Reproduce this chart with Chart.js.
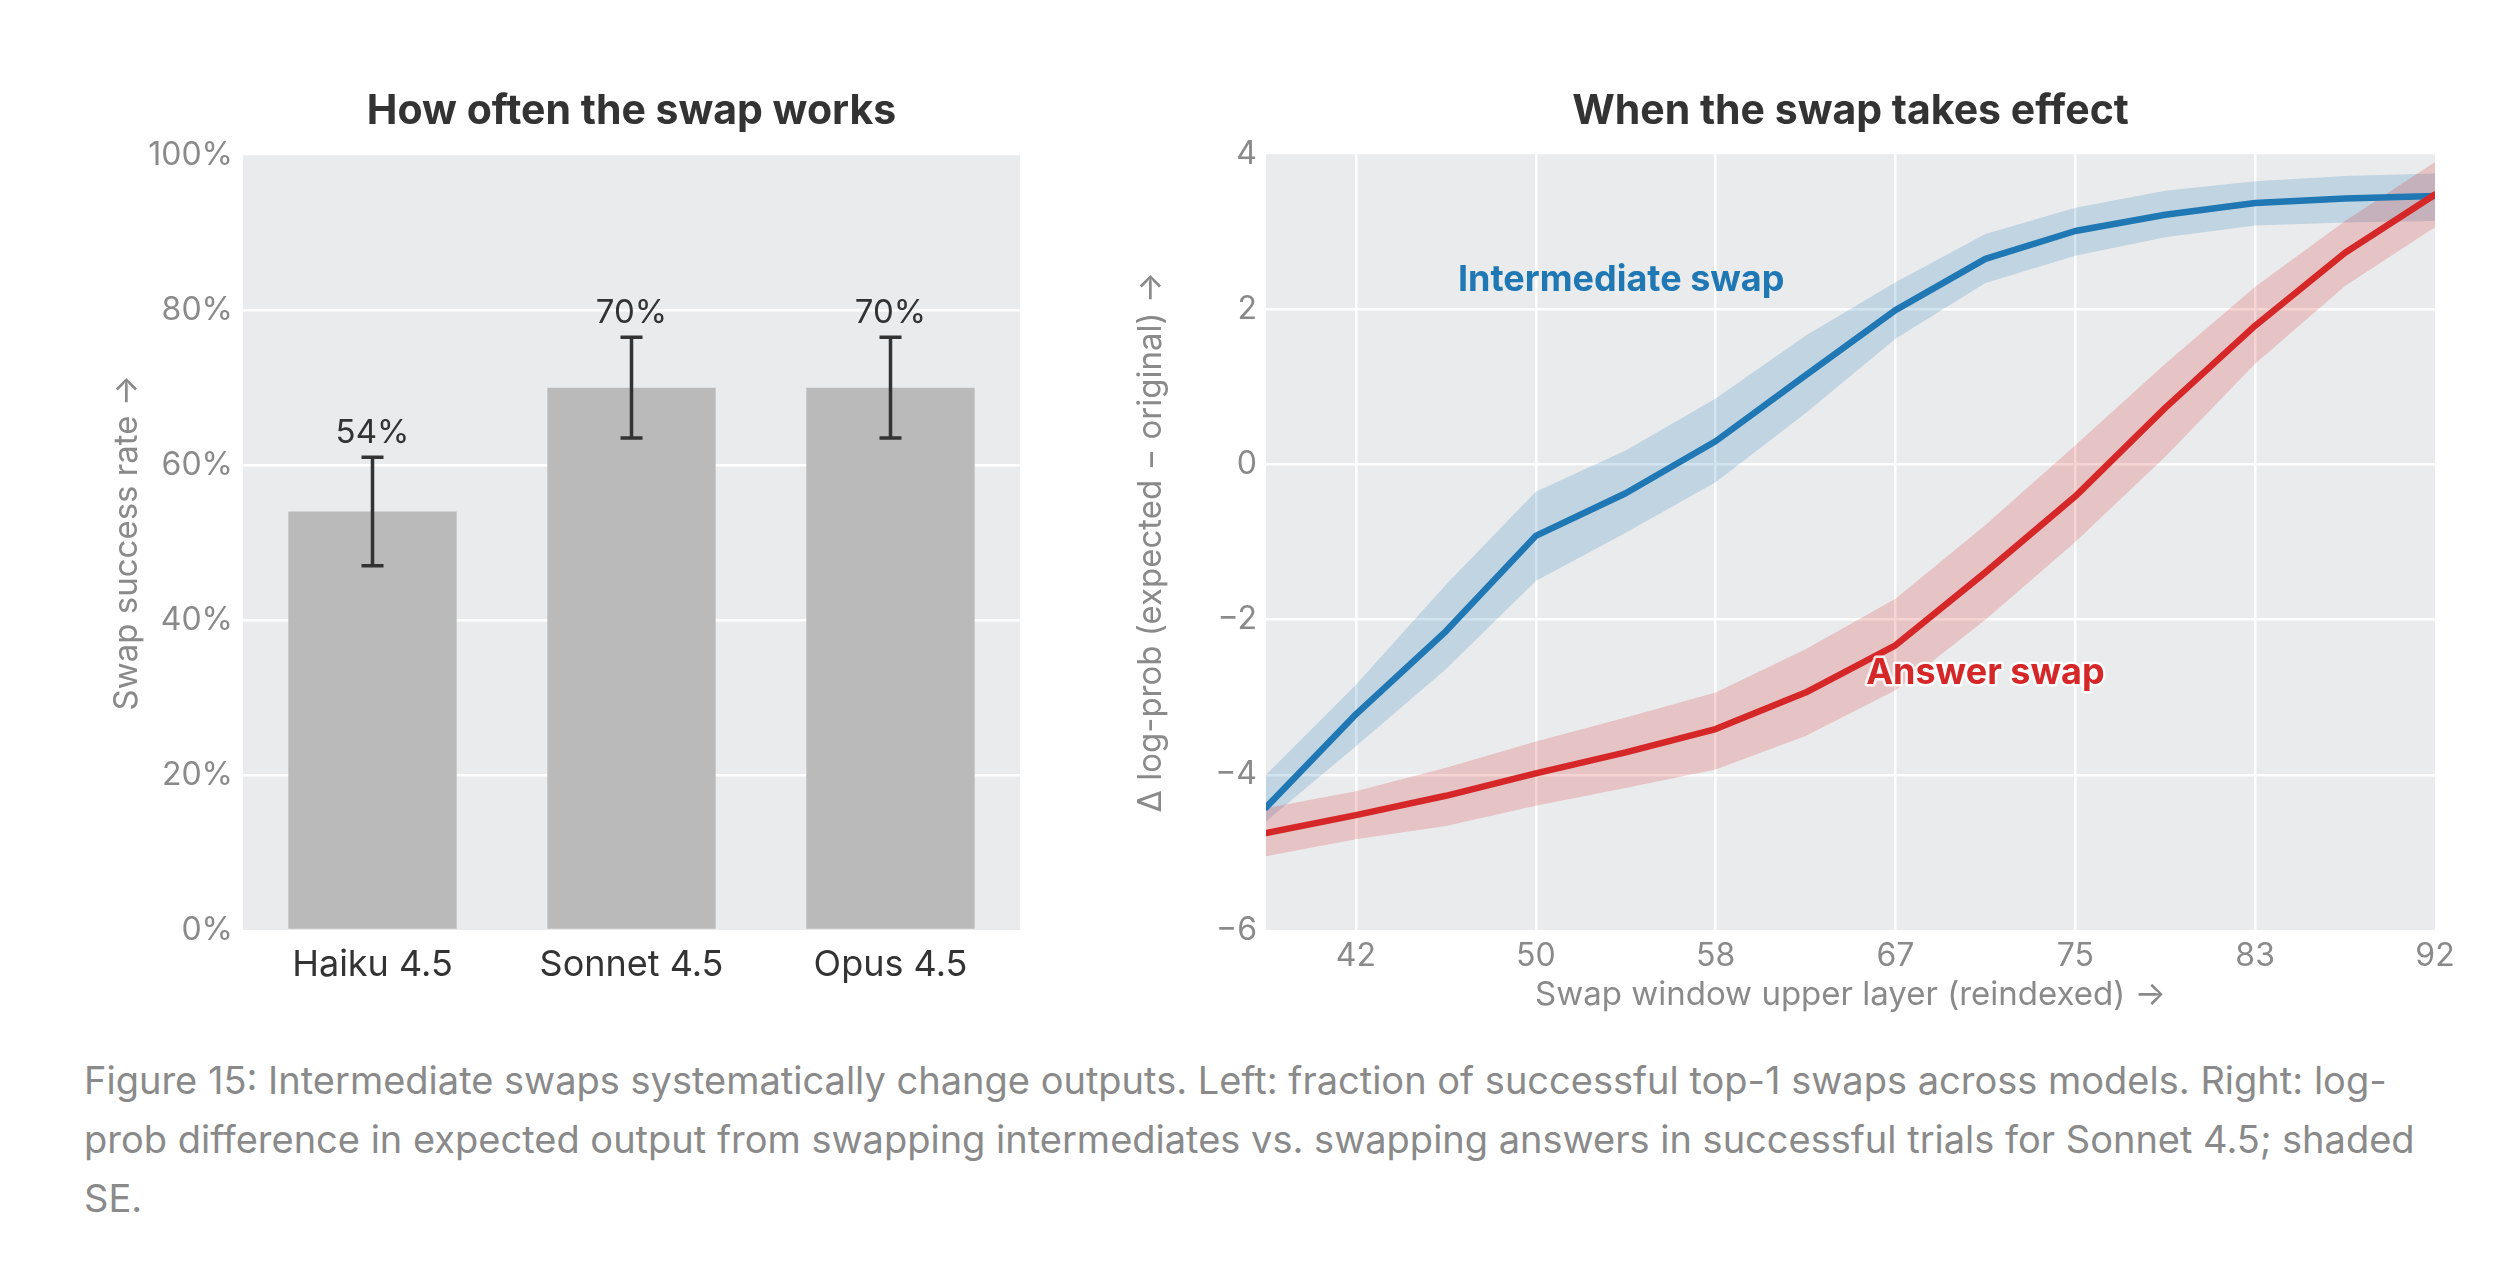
<!DOCTYPE html>
<html>
<head>
<meta charset="utf-8">
<script src="https://cdn.jsdelivr.net/npm/chart.js@4.4.1/dist/chart.umd.min.js"></script>
<style>
  html, body { margin:0; padding:0; background:#fff; }
  body { width:2494px; height:1270px; position:relative; overflow:hidden; font-family: Inter, "Noto Sans", sans-serif; }
  canvas { position:absolute; }
  #c1 { left:0; top:0; }
  #c2 { left:1100px; top:0; }
  #caption { position:absolute; left:84px; top:1051px; font-size:38px; line-height:59px; color:#8a8a8a; white-space:nowrap; }
</style>
</head>
<body>
<canvas id="c1" width="1100" height="1040"></canvas>
<canvas id="c2" width="1394" height="1040"></canvas>
<div id="caption">Figure 15: Intermediate swaps systematically change outputs. Left: fraction of successful top-1 swaps across models. Right: log-<br>prob difference in expected output from swapping intermediates vs. swapping answers in successful trials for Sonnet 4.5; shaded<br>SE.</div>
<script>
// ---------- data: left panel ----------
const models = ['Haiku 4.5', 'Sonnet 4.5', 'Opus 4.5'];
const successRate = [54, 70, 70];
const errLow = [47, 63.5, 63.5];
const errHigh = [61, 76.5, 76.5];
const rateTicks = [0, 20, 40, 60, 80, 100];

// ---------- data: right panel ----------
const windowSteps = [0,1,2,3,4,5,6,7,8,9,10,11,12,13];
const layerTickSteps = [1,3,5,7,9,11,13];
const layerTickLabels = ['42','50','58','67','75','83','92'];
const intermediateMean  = [-4.42,-3.22,-2.15,-0.92,-0.37,0.30,1.15,1.99,2.65,3.01,3.22,3.37,3.43,3.46];
const intermediateUpper = [-4.00,-2.84,-1.55,-0.35,0.18,0.85,1.66,2.35,2.97,3.31,3.53,3.65,3.72,3.75];
const intermediateLower = [-4.60,-3.63,-2.64,-1.50,-0.88,-0.23,0.66,1.62,2.34,2.69,2.93,3.08,3.12,3.14];
const answerMean  = [-4.75,-4.52,-4.27,-3.98,-3.71,-3.41,-2.94,-2.33,-1.39,-0.41,0.73,1.79,2.73,3.48];
const answerUpper = [-4.43,-4.21,-3.91,-3.57,-3.26,-2.94,-2.38,-1.73,-0.78,0.25,1.30,2.29,3.14,3.90];
const answerLower = [-5.05,-4.83,-4.66,-4.40,-4.17,-3.93,-3.50,-2.91,-2.00,-1.00,0.10,1.30,2.30,3.06];

const FONT = 'Inter, "Noto Sans", sans-serif';
const BG = '#eaebed';
const BLUE = '#1f77b4';
const RED = '#d62728';

const plotBg = {
  id: 'plotBg',
  beforeDraw(chart) {
    const {ctx, chartArea: a} = chart;
    ctx.save();
    ctx.fillStyle = BG;
    ctx.fillRect(a.left, a.top, a.right - a.left, a.bottom - a.top);
    ctx.restore();
  }
};

// ---------- left chart ----------
const errorBars = {
  id: 'errorBars',
  afterDatasetsDraw(chart) {
    const {ctx, scales: {x, y}} = chart;
    ctx.save();
    ctx.strokeStyle = '#333';
    ctx.lineWidth = 3.5;
    ctx.fillStyle = '#333';
    ctx.font = '33px ' + FONT;
    ctx.textAlign = 'center';
    ctx.textBaseline = 'alphabetic';
    models.forEach((m, i) => {
      const px = x.getPixelForValue(i);
      const yt = y.getPixelForValue(errHigh[i]);
      const yb = y.getPixelForValue(errLow[i]);
      ctx.beginPath();
      ctx.moveTo(px, yt); ctx.lineTo(px, yb);
      ctx.moveTo(px - 11, yt); ctx.lineTo(px + 11, yt);
      ctx.moveTo(px - 11, yb); ctx.lineTo(px + 11, yb);
      ctx.stroke();
      ctx.fillText(successRate[i] + '%', px, yt - 14);
    });
    ctx.restore();
  }
};

new Chart(document.getElementById('c1'), {
  type: 'bar',
  data: {
    labels: models,
    datasets: [{
      data: successRate,
      backgroundColor: '#bababa',
      borderWidth: 0,
      categoryPercentage: 1,
      barPercentage: 0.65
    }]
  },
  plugins: [plotBg, errorBars],
  options: {
    responsive: false,
    animation: false,
    devicePixelRatio: 1,
    layout: { padding: { left: 0, right: 80, top: 0, bottom: 0 } },
    plugins: {
      legend: { display: false },
      tooltip: { enabled: false },
      title: {
        display: true,
        fullSize: false,
        text: 'How often the swap works',
        color: '#333',
        font: { family: FONT, size: 41, weight: 'bold', lineHeight: 1.2 },
        padding: { top: 87, bottom: 19 }
      }
    },
    scales: {
      x: {
        grid: { display: false, drawTicks: false },
        border: { display: false },
        ticks: { color: '#333', font: { family: FONT, size: 36 }, padding: 14 },
        afterFit(s) { s.height = 110; }
      },
      y: {
        min: 0, max: 100,
        afterBuildTicks(s) { s.ticks = rateTicks.map(v => ({ value: v })); },
        grid: {
          drawTicks: false,
          lineWidth: 2.5,
          color: c => (c.tick && (c.tick.value === 0 || c.tick.value === 100)) ? 'rgba(0,0,0,0)' : '#ffffff'
        },
        border: { display: false },
        ticks: { color: '#8a8a8a', font: { family: FONT, size: 32 }, padding: 10, callback: v => v + '%' },
        title: {
          display: true,
          text: 'Swap success rate \u2192',
          color: '#8a8a8a',
          font: { family: FONT, size: 33, lineHeight: 1.2 },
          padding: { top: 107, bottom: 0 }
        },
        afterFit(s) { s.width = 243; }
      }
    }
  }
});

// ---------- right chart ----------
const pts = arr => arr.map((v, i) => ({ x: windowSteps[i], y: v }));

const seriesLabels = {
  id: 'seriesLabels',
  afterDatasetsDraw(chart) {
    const {ctx, scales: {x, y}} = chart;
    const items = [
      { text: 'Intermediate swap', color: BLUE, at: [3.95, 2.38], halo: false },
      { text: 'Answer swap', color: RED, at: [8.0, -2.69], halo: true }
    ];
    ctx.save();
    ctx.font = 'bold 36px ' + FONT;
    ctx.textAlign = 'center';
    ctx.textBaseline = 'middle';
    items.forEach(it => {
      const px = x.getPixelForValue(it.at[0]);
      const py = y.getPixelForValue(it.at[1]);
      if (it.halo) {
        ctx.strokeStyle = 'rgba(255,255,255,0.85)';
        ctx.lineWidth = 5;
        ctx.lineJoin = 'round';
        ctx.strokeText(it.text, px, py);
      }
      ctx.fillStyle = it.color;
      ctx.fillText(it.text, px, py);
    });
    ctx.restore();
  }
};

const lineCommon = { pointRadius: 0, borderCapStyle: 'round', borderJoinStyle: 'round', tension: 0 };

new Chart(document.getElementById('c2'), {
  type: 'line',
  data: {
    datasets: [
      Object.assign({ data: pts(answerMean), borderColor: RED, borderWidth: 6.5, fill: false }, lineCommon),
      Object.assign({ data: pts(intermediateMean), borderColor: BLUE, borderWidth: 6.5, fill: false }, lineCommon),
      Object.assign({ data: pts(answerUpper), borderWidth: 0, borderColor: 'rgba(0,0,0,0)', fill: false }, lineCommon),
      Object.assign({ data: pts(answerLower), borderWidth: 0, borderColor: 'rgba(0,0,0,0)', fill: '-1', backgroundColor: 'rgba(214,39,40,0.2)' }, lineCommon),
      Object.assign({ data: pts(intermediateUpper), borderWidth: 0, borderColor: 'rgba(0,0,0,0)', fill: false }, lineCommon),
      Object.assign({ data: pts(intermediateLower), borderWidth: 0, borderColor: 'rgba(0,0,0,0)', fill: '-1', backgroundColor: 'rgba(31,119,180,0.2)' }, lineCommon)
    ]
  },
  plugins: [plotBg, seriesLabels],
  options: {
    responsive: false,
    animation: false,
    devicePixelRatio: 1,
    layout: { padding: { left: 0, right: 59, top: 0, bottom: 0 } },
    plugins: {
      legend: { display: false },
      tooltip: { enabled: false },
      filler: { propagate: false },
      title: {
        display: true,
        fullSize: false,
        text: 'When the swap takes effect',
        color: '#333',
        font: { family: FONT, size: 41, weight: 'bold', lineHeight: 1.2 },
        padding: { top: 87, bottom: 18 }
      }
    },
    scales: {
      x: {
        type: 'linear',
        min: 0, max: 13,
        afterBuildTicks(s) { s.ticks = layerTickSteps.map(v => ({ value: v })); },
        grid: {
          drawTicks: false,
          lineWidth: 2.5,
          color: c => (c.tick && c.tick.value === 13) ? 'rgba(0,0,0,0)' : '#ffffff'
        },
        border: { display: false },
        ticks: {
          color: '#8a8a8a', font: { family: FONT, size: 32 }, padding: 7,
          callback: v => layerTickLabels[layerTickSteps.indexOf(v)]
        },
        title: {
          display: true,
          text: 'Swap window upper layer (reindexed) \u2192',
          color: '#8a8a8a',
          font: { family: FONT, size: 33, lineHeight: 1.2 },
          padding: { top: 0, bottom: 25 }
        },
        afterFit(s) { s.height = 110; }
      },
      y: {
        min: -6, max: 4,
        afterBuildTicks(s) { s.ticks = [-6,-4,-2,0,2,4].map(v => ({ value: v })); },
        grid: {
          drawTicks: false,
          lineWidth: 2.5,
          color: c => (c.tick && (c.tick.value === 4 || c.tick.value === -6)) ? 'rgba(0,0,0,0)' : '#ffffff'
        },
        border: { display: false },
        ticks: {
          color: '#8a8a8a', font: { family: FONT, size: 32 }, padding: 9,
          callback: v => v < 0 ? '\u2212' + Math.abs(v) : String(v)
        },
        title: {
          display: true,
          text: '\u0394 log-prob (expected \u2212 original) \u2192',
          color: '#8a8a8a',
          font: { family: FONT, size: 33, lineHeight: 1.2 },
          padding: { top: 31, bottom: 0 }
        },
        afterFit(s) { s.width = 166; }
      }
    }
  }
});
</script>
</body>
</html>
